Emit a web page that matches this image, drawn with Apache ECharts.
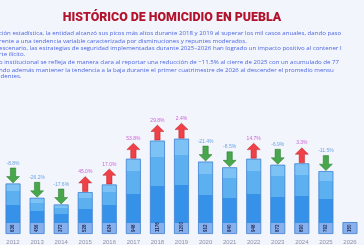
<!DOCTYPE html>
<html>
<head>
<meta charset="utf-8">
<script src="https://cdn.jsdelivr.net/npm/echarts@6/dist/echarts.min.js"></script>
<style>
  html, body { margin: 0; padding: 0; background: #f2f5fc; }
  #chart { width: 364px; height: 245px; }
</style>
</head>
<body>
<div id="chart"></div>
<script>
// datos
var years = ["2012","2013","2014","2015","2016","2017","2018","2019","2020","2021","2022","2023","2024","2025","2026"];
var casos = [636, 456, 372, 528, 624, 948, 1176, 1200, 912, 840, 948, 872, 890, 792, 150];
var variacion = ["-8.8%","-26.2%","-17.6%","45.0%","17.0%","53.8%","29.8%","2.4%","-21.4%","-8.5%","14.7%","-6.9%","3.3%","-11.5%",""];
var parrafos = [
  "ción estadística, la entidad alcanzó sus picos más altos durante 2018 y 2019 al superar los mil casos anuales, dando paso",
  "rente a una tendencia variable caracterizada por disminuciones y repuntes moderados.",
  "escenario, las estrategias de seguridad implementadas durante 2025–2026 han logrado un impacto positivo al contener l",
  "rte ilícito.",
  "o institucional se refleja de manera clara al reportar una reducción de −11.5% al cierre de 2025 con un acumulado de 77",
  "ndo además mantener la tendencia a la baja durante el primer cuatrimestre de 2026 al descender el promedio mensu",
  "identes."
];

var chart = echarts.init(document.getElementById("chart"));

var PALE = 144; // franja clara de la base (en unidades del eje)

function barItem(v) {
  var f = Math.min(1, PALE / v);
  var u = 1 - f;
  return {
    value: v,
    itemStyle: {
      color: {
        type: "linear", x: 0, y: 0, x2: 0, y2: 1,
        colorStops: [
          { offset: 0, color: "#7cc2f5" },
          { offset: 0.2 * u, color: "#7cc2f5" },
          { offset: 0.2 * u, color: "#5cb0f0" },
          { offset: 0.55 * u, color: "#5cb0f0" },
          { offset: 0.55 * u, color: "#3592e8" },
          { offset: u, color: "#3592e8" },
          { offset: u, color: "#88b0ec" },
          { offset: 1, color: "#88b0ec" }
        ]
      }
    }
  };
}

var upArrow = "path://M6,0 L12,6 L8.5,6 L8.5,14 L3.5,14 L3.5,6 L0,6 Z";
var downArrow = "path://M3.5,0 L8.5,0 L8.5,8 L12,8 L6,14 L0,8 L3.5,8 Z";

function arrowData(up) {
  return casos.map(function (v, i) {
    if (!variacion[i]) return "-";
    var neg = variacion[i].charAt(0) == "-";
    return (up ? !neg : neg) ? v : "-";
  });
}

var textos = parrafos.map(function (t, i) {
  var ys = [30, 38, 45, 51, 59, 67, 73];
  return {
    type: "text",
    left: -1,
    top: ys[i],
    style: { text: t, fill: "#4c66e0", font: "6.1px 'Open Sans'" }
  };
});

var option = {
  backgroundColor: "#f2f5fc",
  animation: false,
  title: {
    text: "HISTÓRICO DE HOMICIDIO EN PUEBLA",
    left: 167,
    textAlign: "center",
    top: 7,
    textStyle: { color: "#b3122c", fontSize: 12.4, fontWeight: 900, fontFamily: "Roboto" }
  },
  graphic: textos,
  grid: { left: 1, right: 2, top: 91, bottom: 4 },
  xAxis: {
    type: "category",
    data: years,
    axisLine: { show: false },
    axisTick: { show: false },
    axisLabel: { fontSize: 6, color: "#8a8fa8", margin: 5 }
  },
  yAxis: {
    type: "value",
    min: 0,
    max: 1800,
    show: false,
    splitLine: { show: false }
  },
  series: [
    {
      name: "casos",
      type: "bar",
      barWidth: 15,
      data: casos.map(barItem),
      itemStyle: { borderColor: "#3f82d2", borderWidth: 0.8 },
      label: {
        show: true,
        position: "insideBottom",
        rotate: 90,
        align: "left",
        verticalAlign: "middle",
        distance: 2,
        fontSize: 4.5,
        fontWeight: "bold",
        color: "#1c2a55"
      },
      z: 2
    },
    {
      name: "sube",
      type: "scatter",
      data: arrowData(true),
      symbol: upArrow,
      symbolSize: [13, 15],
      symbolOffset: [0, -8],
      itemStyle: { color: "#f0141a", borderColor: "#b00d12", borderWidth: 0.5 },
      label: {
        show: true,
        position: "top",
        distance: 2,
        fontSize: 5,
        color: "#c23bd0",
        formatter: function (p) { return variacion[p.dataIndex]; }
      },
      z: 3
    },
    {
      name: "baja",
      type: "scatter",
      data: arrowData(false),
      symbol: downArrow,
      symbolSize: [13, 15],
      symbolOffset: [0, -8],
      itemStyle: { color: "#1d921f", borderColor: "#0f6a12", borderWidth: 0.5 },
      label: {
        show: true,
        position: "top",
        distance: 2,
        fontSize: 5,
        color: "#4a8fe0",
        formatter: function (p) { return variacion[p.dataIndex]; }
      },
      z: 3
    }
  ]
};

chart.setOption(option);
window.onresize = function () {
  chart.resize();
};
</script>
</body>
</html>
